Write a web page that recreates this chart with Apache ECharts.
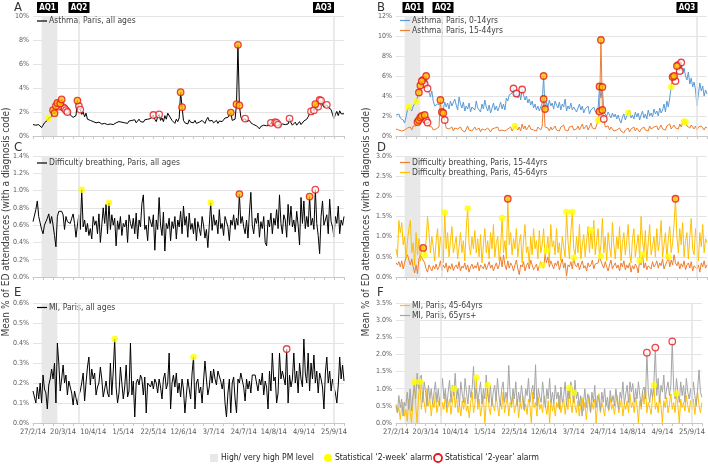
<!DOCTYPE html>
<html>
<head>
<meta charset="utf-8">
<script src="https://cdn.jsdelivr.net/npm/echarts@6/dist/echarts.min.js"></script>
<style>
  html, body { margin: 0; background: #fff; }
  #chart { width: 708px; height: 464px; }
</style>
</head>
<body>
<div id="chart"></div>
<script>
const FONT = "'Liberation Sans Narrow', 'DejaVu Sans Condensed', 'Liberation Sans', sans-serif";

// one category per day, from 27/2/14
const dayCount = 218;
const dates = [];
for (let i = 0; i < dayCount; i++) {
  const d = new Date(2014, 1, 27 + i);
  dates.push(`${d.getDate()}/${d.getMonth() + 1}/14`);
}
const xLabelDates = ['27/2/14', '20/3/14', '10/4/14', '1/5/14', '22/5/14', '12/6/14', '3/7/14', '24/7/14', '14/8/14', '4/9/14', '25/9/14'];
const pmEpisode = [6, 17];   // AQ1 shaded days
const aqLines = [32, 210];   // AQ2, AQ3

// A - asthma, all ages
const asthmaAll = [
  0.95,1.0,0.9,1.05,0.95,0.85,0.7,0.9,1.1,1.25,1.3,1.5,1.35,1.6,
  2.15,1.9,2.5,2.75,2.45,2.7,3.05,2.4,2.3,2.15,2.0,2.25,1.75,1.8,
  1.55,1.6,1.7,2.95,2.5,2.2,1.8,2.0,1.6,1.9,1.4,1.5,1.3,1.35,
  1.2,1.3,1.1,1.25,1.15,1.3,1.0,1.15,1.05,1.2,0.95,1.1,1.0,1.15,
  0.95,1.05,1.1,1.0,1.2,1.05,1.15,1.3,1.1,1.2,1.05,1.25,1.15,1.3,
  1.2,1.35,1.1,1.25,1.4,1.2,1.3,1.15,1.35,1.25,1.4,1.3,1.45,1.5,
  1.75,1.4,1.2,1.6,1.8,1.3,1.5,1.2,1.7,1.4,1.9,2.0,1.5,1.3,
  1.2,1.05,1.4,1.2,1.5,3.65,2.4,1.3,1.1,1.25,1.0,1.35,1.15,1.2,
  1.1,1.3,1.05,1.2,1.15,1.1,1.3,1.2,1.05,1.35,1.55,1.25,1.15,1.3,
  1.1,1.2,1.3,1.05,1.25,1.4,1.2,1.3,1.5,1.35,1.55,1.5,1.95,1.3,
  1.2,1.4,2.65,7.6,2.55,1.6,1.3,1.25,1.45,1.2,1.05,1.3,1.1,1.2,
  0.95,1.1,0.85,0.75,0.6,0.8,0.65,0.9,0.75,0.85,0.95,0.9,1.1,0.95,
  1.05,1.15,1.1,0.95,0.8,0.9,1.0,0.85,0.95,1.1,1.0,1.45,1.1,0.9,
  1.0,1.15,0.9,1.05,1.2,0.95,1.1,1.25,1.15,1.4,1.6,1.85,2.05,1.9,
  2.15,2.65,2.3,2.45,3.0,2.95,2.6,2.4,2.25,2.6,2.4,2.5,2.2,1.8,
  1.45,1.8,2.05,1.7,2.1,1.85,2.0,1.85
];
const asthmaAllWeek = [11];
const asthmaAllBoth = [14, 15, 16, 17, 19, 20, 31, 103, 104, 138, 142, 143, 144, 197];
const asthmaAllYear = [18, 21, 22, 23, 24, 32, 33, 84, 88, 148, 166, 169, 170, 171, 179, 194, 196, 199, 200, 201, 205];

// B - asthma, 0-14yrs and 15-44yrs
const asthmaChild = [
  2.1,1.9,2.2,1.8,2.0,1.6,1.3,1.9,2.6,2.9,2.7,2.5,3.0,3.1,
  3.45,3.9,4.35,5.05,5.5,5.6,5.2,6.0,4.75,4.4,3.9,4.5,3.5,3.0,
  2.8,3.2,3.0,3.1,3.2,2.6,3.4,2.9,3.3,2.7,3.5,3.0,2.8,3.7,
  3.1,2.6,3.9,3.2,2.8,3.4,2.5,3.0,2.7,3.3,2.4,2.9,3.1,2.6,
  3.5,2.8,3.0,2.4,3.2,2.7,3.6,2.9,2.5,3.1,2.3,2.8,3.3,2.6,
  3.0,2.5,2.9,3.4,2.7,3.2,2.6,3.8,3.5,4.1,3.9,4.3,4.75,3.9,
  4.25,3.8,4.4,3.6,4.65,4.1,3.6,4.0,3.3,3.7,3.1,3.5,2.8,3.2,
  2.6,3.0,2.5,2.9,3.3,6.0,2.7,3.4,2.9,3.6,3.0,3.3,2.7,3.5,
  3.1,2.8,3.4,2.6,3.2,2.9,3.7,2.5,3.0,2.7,3.3,2.6,2.9,3.1,
  2.4,2.8,3.2,2.6,3.0,2.3,2.7,2.5,3.0,2.2,2.6,2.4,2.9,2.5,
  2.2,2.7,4.95,3.8,4.9,2.4,2.5,2.0,2.4,2.1,1.8,2.3,1.9,2.2,
  1.7,2.1,1.6,1.3,1.9,2.2,1.6,2.0,2.3,2.6,1.8,2.1,1.7,2.4,
  1.9,2.3,1.6,2.1,2.5,1.8,2.2,1.7,2.6,2.0,2.3,1.9,2.7,2.2,
  2.5,2.0,2.8,2.3,2.6,3.2,2.4,3.5,2.9,3.8,4.9,5.9,6.0,5.5,
  7.0,7.1,6.5,7.35,6.2,6.8,6.0,5.6,6.4,5.2,5.8,4.9,5.4,4.6,
  3.0,4.2,5.3,4.5,5.0,4.0,4.6,4.2
];
const asthmaChildWeek = [9, 14, 162, 192];
const asthmaChildBoth = [16, 17, 18, 21, 103, 104, 142, 144, 193, 194, 196];
const asthmaChildYear = [19, 20, 22, 82, 84, 88, 195, 197, 198, 199];

const asthmaAdult = [
  0.7,0.9,0.6,0.8,0.5,0.7,0.6,0.5,0.8,0.7,0.9,0.6,1.0,0.8,
  1.0,1.4,1.6,1.85,2.0,1.7,2.1,1.6,1.35,1.0,0.8,0.9,0.6,0.8,
  0.7,0.5,0.9,3.6,2.4,2.3,1.6,0.8,1.0,0.7,0.6,0.9,0.5,0.8,
  0.6,0.7,0.5,0.9,0.6,0.8,0.4,0.7,1.0,0.6,0.8,0.5,0.7,0.9,
  0.6,0.5,0.8,0.4,0.7,0.9,0.6,0.5,0.8,0.6,0.4,0.7,0.5,0.8,
  0.6,0.9,0.5,0.7,0.6,0.8,0.5,0.4,0.7,0.6,0.9,0.5,0.7,1.0,
  0.8,0.6,0.9,0.5,1.2,0.7,1.0,0.6,0.8,1.1,0.7,0.9,0.6,0.8,
  0.5,0.9,0.7,0.6,1.0,3.7,0.9,0.7,0.8,0.5,0.9,0.6,0.7,1.0,
  0.6,0.8,0.5,0.9,0.7,1.1,0.6,0.8,0.5,0.9,0.7,1.0,0.6,0.8,
  0.7,1.0,0.6,0.9,1.2,0.7,0.8,1.1,0.6,0.9,1.3,0.8,1.0,0.7,
  1.1,1.6,2.45,9.6,2.6,1.7,0.9,0.7,1.0,0.6,0.9,0.8,0.5,0.7,
  0.6,0.4,0.8,0.5,0.7,0.3,0.6,0.5,0.8,0.4,0.7,0.6,0.9,0.5,
  0.8,0.6,0.4,0.7,0.5,0.9,0.6,0.8,0.5,1.0,0.7,0.6,0.9,0.7,
  1.0,0.6,0.8,1.1,0.7,0.9,0.6,1.0,0.8,1.2,0.7,0.9,1.1,0.8,
  1.0,0.7,1.2,0.9,1.3,1.45,1.4,1.0,1.2,0.8,1.1,0.9,0.7,1.0,
  0.6,0.9,0.7,1.0,0.8,0.6,0.9,0.8
];
const asthmaAdultWeek = [83, 141, 201, 202];
const asthmaAdultBoth = [15, 16, 17, 18, 20, 31, 32, 33, 103, 142, 143, 144];
const asthmaAdultYear = [21, 22, 34, 145];

// C - difficulty breathing, all ages
const breathAll = [
  0.64,0.66,0.78,0.88,0.7,0.72,0.55,0.5,0.6,0.58,0.68,0.73,0.62,0.7,
  0.6,0.48,0.35,0.7,0.76,0.74,0.76,0.72,0.55,0.7,0.64,0.65,0.62,0.68,
  0.73,0.62,0.46,0.6,0.72,0.55,1.01,0.58,0.66,0.52,0.62,0.48,0.56,0.44,
  0.7,0.6,0.65,0.5,0.73,0.4,0.6,0.8,0.62,0.84,0.5,0.86,0.55,0.72,
  0.6,0.68,0.36,0.65,0.55,0.7,0.48,0.62,0.58,0.66,0.4,0.72,0.62,0.56,
  0.68,0.5,0.74,0.44,0.66,0.58,0.85,0.95,0.55,0.6,0.42,0.7,0.64,0.58,
  0.72,0.31,0.66,0.55,0.92,0.6,0.48,0.75,0.3,0.62,0.56,0.68,0.42,0.64,
  0.56,0.7,0.44,0.66,0.58,0.76,0.5,0.82,0.6,0.7,0.46,0.74,0.55,0.62,
  0.5,0.68,0.42,0.64,0.56,0.48,0.7,0.6,0.45,0.55,0.34,0.6,0.86,0.54,
  0.72,0.6,0.66,0.5,0.78,0.56,0.62,0.48,0.7,0.64,0.58,0.42,0.66,0.6,
  0.72,0.55,0.68,0.6,0.96,0.62,0.7,0.58,0.5,0.66,0.45,0.74,0.98,0.6,
  0.5,0.68,0.62,0.74,0.46,0.64,0.56,0.7,0.4,0.36,0.66,0.58,0.74,0.5,
  0.68,0.6,0.78,0.56,0.95,0.62,0.5,0.72,0.66,0.46,0.84,0.6,0.82,0.58,
  0.66,0.52,0.76,0.6,0.37,0.92,0.62,0.88,0.56,0.7,0.58,0.93,0.6,0.68,
  0.55,1.01,0.62,0.48,0.27,0.7,0.88,0.6,0.66,0.72,0.5,0.9,0.64,0.58,
  0.46,0.7,0.62,0.82,0.5,0.66,0.6,0.7
];
const breathAllWeek = [34, 53, 124];
const breathAllBoth = [144, 193];
const breathAllYear = [197];

// D - difficulty breathing, 15-44yrs and 45-64yrs
const breathAdult = [
  0.35,0.3,0.38,0.25,0.4,0.2,0.35,0.5,0.55,0.42,0.3,0.45,0.25,0.1,
  0.3,0.08,0.45,0.55,0.48,0.5,0.35,0.2,0.12,0.3,0.22,0.15,0.28,0.2,
  0.32,0.18,0.25,0.4,0.15,0.3,0.22,0.35,0.12,0.28,0.2,0.33,0.16,0.25,
  0.3,0.2,0.38,0.15,0.27,0.22,0.35,0.18,0.3,0.12,0.25,0.32,0.2,0.28,
  0.22,0.36,0.15,0.3,0.25,0.2,0.33,0.18,0.28,0.38,0.22,0.3,0.15,0.26,
  0.35,0.2,0.3,0.5,0.25,0.55,0.3,0.18,0.4,0.22,0.35,0.28,0.15,0.3,
  0.42,0.2,0.06,0.3,0.25,0.38,0.15,0.28,0.35,0.2,0.42,0.3,0.18,0.25,
  0.32,0.15,0.28,0.38,0.29,0.22,0.55,0.35,0.5,0.25,0.4,0.3,0.2,0.35,
  0.28,0.4,0.18,0.32,0.45,0.22,0.35,0.02,0.3,0.25,0.38,0.2,0.48,0.3,
  0.25,0.35,0.18,0.3,0.4,0.22,0.28,0.15,0.35,0.25,0.3,0.42,0.2,0.32,
  0.28,0.35,0.5,0.52,0.3,0.22,0.38,0.25,0.15,0.3,0.42,0.2,0.28,0.35,
  0.22,0.3,0.15,0.35,0.25,0.4,0.18,0.3,0.22,0.35,0.12,0.28,0.2,0.32,
  0.25,0.1,0.41,0.3,0.56,0.22,0.35,0.18,0.28,0.32,0.2,0.38,0.25,0.3,
  0.4,0.22,0.35,0.28,0.45,0.2,0.3,0.38,0.5,0.25,0.42,0.3,0.55,0.35,
  0.28,0.38,0.2,0.33,0.25,0.4,0.18,0.3,0.35,0.22,0.38,0.15,0.28,0.32,
  0.2,0.3,0.12,0.35,0.25,0.4,0.22,0.3
];
const breathAdultWeek = [102, 124, 143, 170, 172, 190];

const breathMid = [
  0.7,0.5,1.4,1.1,1.35,0.8,1.0,0.45,0.9,1.2,1.4,0.6,0.85,0.3,
  1.1,0.55,0.95,0.4,0.8,0.72,0.54,0.9,1.5,1.1,0.6,1.0,0.75,0.4,
  0.9,1.2,0.5,1.0,0.8,0.35,1.6,0.7,1.1,0.5,0.9,1.25,0.6,0.8,
  1.0,0.45,0.75,1.1,0.6,0.9,0.4,1.2,1.7,0.8,0.55,1.0,0.7,1.15,
  0.6,0.95,0.5,1.05,0.35,0.8,1.2,0.6,0.9,0.45,1.1,0.7,1.3,0.5,
  0.85,1.0,0.4,0.75,1.46,0.6,0.9,0.45,1.94,0.8,1.1,0.55,0.95,0.7,
  1.2,0.5,0.85,1.05,0.35,0.9,1.3,0.6,0.75,0.3,1.0,0.55,1.2,0.7,
  0.9,0.45,1.15,0.6,0.8,1.2,0.5,0.66,1.0,0.35,1.3,0.75,0.9,0.55,
  1.2,0.6,0.85,0.4,1.0,0.75,0.5,1.61,0.9,0.45,1.1,1.61,0.7,0.55,
  1.0,0.6,1.3,0.45,0.8,1.05,0.5,0.9,1.25,0.6,1.16,0.7,1.4,0.55,
  0.9,1.2,0.5,0.8,1.45,0.6,1.0,0.4,1.1,0.75,0.5,1.35,0.8,0.45,
  1.0,0.7,1.25,0.4,0.85,1.1,0.55,0.9,1.3,0.6,0.35,0.95,1.2,0.5,
  0.8,1.05,0.45,1.5,0.9,0.6,1.15,0.4,0.85,1.3,0.55,0.75,1.0,0.5,
  1.2,0.65,0.9,1.4,0.5,0.8,1.1,0.45,0.95,1.25,0.6,0.85,1.3,1.94,
  1.0,0.6,1.2,0.8,1.35,0.5,0.9,1.1,0.45,1.0,1.45,0.7,0.55,1.2,
  0.9,0.4,1.1,0.75,1.3,0.6,0.95,0.85
];
const breathMidWeek = [20, 34, 50, 74, 105, 119, 123, 136];
const breathMidBoth = [19, 78, 195];

// E - MI, all ages
const miAll = [
  0.16,0.15,0.1,0.18,0.12,0.2,0.1,0.24,0.17,0.15,0.07,0.19,0.22,0.27,
  0.22,0.3,0.1,0.4,0.3,0.16,0.22,0.29,0.2,0.24,0.14,0.21,0.18,0.15,
  0.09,0.16,0.15,0.09,0.14,0.16,0.2,0.25,0.11,0.2,0.28,0.33,0.19,0.27,
  0.22,0.25,0.14,0.18,0.2,0.28,0.22,0.13,0.17,0.21,0.15,0.13,0.3,0.14,
  0.26,0.42,0.18,0.1,0.15,0.28,0.27,0.12,0.18,0.29,0.13,0.16,0.4,0.14,
  0.21,0.03,0.2,0.22,0.19,0.24,0.22,0.14,0.23,0.05,0.2,0.19,0.18,0.21,
  0.17,0.22,0.2,0.15,0.22,0.18,0.12,0.22,0.25,0.17,0.2,0.35,0.07,0.2,
  0.24,0.18,0.25,0.15,0.2,0.13,0.22,0.17,0.05,0.14,0.22,0.23,0.12,0.25,
  0.33,0.07,0.2,0.22,0.15,0.18,0.1,0.21,0.31,0.22,0.14,0.18,0.26,0.2,
  0.27,0.22,0.19,0.26,0.27,0.21,0.17,0.22,0.1,0.03,0.15,0.22,0.05,0.2,
  0.23,0.12,0.05,0.22,0.2,0.25,0.24,0.18,0.11,0.22,0.17,0.21,0.15,0.24,
  0.25,0.24,0.2,0.16,0.22,0.19,0.25,0.14,0.21,0.18,0.07,0.26,0.16,0.35,
  0.21,0.23,0.1,0.15,0.35,0.22,0.26,0.25,0.19,0.37,0.1,0.24,0.18,0.22,
  0.35,0.2,0.26,0.15,0.3,0.22,0.18,0.42,0.25,0.2,0.35,0.16,0.3,0.22,
  0.34,0.2,0.26,0.15,0.25,0.22,0.18,0.07,0.25,0.33,0.2,0.26,0.16,0.22,
  0.18,0.15,0.1,0.19,0.33,0.22,0.29,0.21
];
const miAllWeek = [57, 112];
const miAllYear = [177];

// F - MI, 45-64yrs and 65yrs+
const miMid = [
  0.55,0.3,0.45,0.1,0.5,0.6,0.2,0.4,0.05,0.7,0.35,0.0,0.6,1.2,
  0.5,0.0,0.8,1.2,0.4,0.9,0.6,0.3,1.0,0.5,0.7,0.2,0.6,0.45,
  0.9,0.3,0.55,0.75,0.2,0.6,0.4,0.85,0.3,0.5,0.7,0.25,0.6,1.0,
  0.45,0.8,0.3,0.55,0.2,0.65,0.4,0.75,0.35,0.5,0.15,0.6,0.9,0.3,
  0.55,1.33,0.4,0.7,0.2,0.5,0.8,0.0,0.6,1.1,0.45,0.25,0.7,0.5,
  0.35,0.8,0.5,0.2,0.65,0.4,0.9,0.3,0.55,0.75,0.2,0.6,0.45,0.85,
  0.3,0.5,0.7,0.15,0.6,0.4,0.8,0.35,0.55,0.25,0.7,0.5,0.0,0.9,
  0.45,0.6,0.2,0.75,0.4,0.55,0.3,0.8,0.5,0.25,0.65,0.0,0.7,0.35,
  0.55,0.2,0.6,0.45,0.8,0.3,0.5,0.7,0.25,0.6,0.4,1.03,0.55,0.3,
  0.88,0.5,0.3,0.65,0.2,0.55,0.75,0.35,0.6,0.1,0.5,0.8,0.3,0.6,
  0.4,0.7,0.0,0.55,0.85,0.3,0.6,0.45,0.2,0.65,0.5,0.35,0.75,0.4,
  0.55,0.25,0.6,0.8,0.3,0.5,0.7,0.2,0.55,0.4,0.65,0.3,0.85,0.45,
  0.6,0.3,0.75,0.5,0.0,0.65,0.4,0.9,0.55,1.05,0.3,0.6,0.45,0.25,
  0.7,1.1,0.4,0.6,0.3,0.8,0.5,0.0,0.65,0.45,0.75,0.3,0.55,0.85,
  0.4,0.6,0.3,0.86,0.5,0.0,0.7,0.45,0.6,0.35,0.8,0.5,0.3,0.65,
  0.4,0.7,0.25,0.6,0.9,0.5,0.3,0.6
];
const miMidWeek = [13, 17, 41, 57, 65, 123, 126, 183, 199];

const miOld = [
  0.5,0.3,0.8,0.45,0.7,0.2,0.6,0.5,0.9,0.4,1.0,0.35,0.8,1.1,
  0.7,1.45,1.0,1.3,1.4,0.6,1.2,0.9,0.5,1.1,0.7,1.0,0.55,0.9,
  1.2,0.6,1.0,0.5,0.85,1.3,0.7,1.0,0.45,0.9,1.25,0.6,1.1,0.8,
  1.45,0.7,1.0,0.5,1.2,0.85,0.6,1.3,0.9,0.55,1.1,0.75,1.0,1.65,
  0.7,1.0,0.6,0.9,1.2,0.55,1.0,0.7,1.4,0.85,0.6,1.1,0.5,0.9,
  1.1,0.65,1.3,0.8,0.5,1.0,1.2,0.6,0.9,0.7,1.68,0.8,0.55,1.0,
  0.7,1.2,0.5,0.9,0.6,1.1,0.75,0.4,1.0,0.8,1.3,0.6,0.9,1.1,
  0.7,1.7,0.5,1.0,0.75,0.6,1.2,0.8,0.45,1.0,0.7,1.3,0.6,0.9,
  0.55,1.1,0.7,0.9,0.4,1.05,0.6,0.8,1.2,0.5,0.95,0.7,1.2,1.0,
  0.6,1.25,0.7,0.9,0.5,0.8,0.2,0.6,1.0,0.45,0.85,0.7,0.3,0.9,
  0.6,1.1,0.45,0.8,0.7,0.35,0.9,0.6,1.0,0.5,0.75,0.4,0.95,0.6,
  0.8,0.5,1.0,0.65,0.4,0.9,0.7,1.2,0.55,0.85,1.1,0.6,1.2,0.9,
  1.15,0.6,1.0,0.7,1.2,0.8,0.5,0.95,1.05,0.7,2.05,0.9,0.6,1.0,
  0.75,1.2,2.2,0.8,1.3,0.6,1.1,0.9,1.4,0.7,1.0,1.2,0.8,1.1,
  2.38,1.0,0.7,1.3,0.9,0.6,1.2,0.8,1.1,0.6,1.3,0.9,0.7,1.0,
  0.6,1.2,0.8,0.5,1.0,1.55,0.9,0.75
];
const miOldYear = [178, 184, 196];

const PANELS = [
  {
    rect: { left: 33, top: 16, width: 311, height: 120 }, max: 10, step: 2, digits: 0,
    letter: 'A', letterPos: [14, 1], legendPos: [37, 16.5], xLabels: false,
    aq: [['AQ1', 47.5], ['AQ2', 79], ['AQ3', 323.5]],
    lines: [
      { name: 'Asthma, Paris, all ages', data: asthmaAll, color: '#000000', week: asthmaAllWeek, year: asthmaAllYear, both: asthmaAllBoth },
    ],
  },
  {
    rect: { left: 396, top: 16, width: 311, height: 120 }, max: 12, step: 2, digits: 0,
    letter: 'B', letterPos: [377, 1], legendPos: [400, 16], xLabels: false,
    aq: [['AQ1', 413], ['AQ2', 443], ['AQ3', 687]],
    lines: [
      { name: 'Asthma, Paris, 0-14yrs', data: asthmaChild, color: '#5b9bd5', week: asthmaChildWeek, year: asthmaChildYear, both: asthmaChildBoth },
      { name: 'Asthma, Paris, 15-44yrs', data: asthmaAdult, color: '#ed7d31', week: asthmaAdultWeek, year: asthmaAdultYear, both: asthmaAdultBoth },
    ],
  },
  {
    rect: { left: 33, top: 156, width: 311, height: 121 }, max: 1.4, step: 0.2, digits: 1,
    letter: 'C', letterPos: [14, 141], legendPos: [37, 158.5], xLabels: false,
    lines: [
      { name: 'Difficulty breathing, Paris, all ages', data: breathAll, color: '#000000', week: breathAllWeek, year: breathAllYear, both: breathAllBoth },
    ],
  },
  {
    rect: { left: 396, top: 156, width: 311, height: 121 }, max: 3, step: 0.5, digits: 1,
    letter: 'D', letterPos: [377, 141], legendPos: [400, 158], xLabels: false,
    lines: [
      { name: 'Difficulty breathing, Paris, 15-44yrs', data: breathAdult, color: '#ed7d31', week: breathAdultWeek },
      { name: 'Difficulty breathing, Paris, 45-64yrs', data: breathMid, color: '#ffc000', week: breathMidWeek, both: breathMidBoth },
    ],
  },
  {
    rect: { left: 33, top: 303, width: 311, height: 120 }, max: 0.6, step: 0.1, digits: 1,
    letter: 'E', letterPos: [14, 286], legendPos: [37, 303], xLabels: true,
    lines: [
      { name: 'MI, Paris, all ages', data: miAll, color: '#000000', week: miAllWeek, year: miAllYear },
    ],
  },
  {
    rect: { left: 396, top: 303, width: 311, height: 120 }, max: 3.5, step: 0.5, digits: 1,
    letter: 'F', letterPos: [377, 286], legendPos: [400, 301], xLabels: true,
    lines: [
      { name: 'MI, Paris, 45-64yrs', data: miMid, color: '#ffc000', week: miMidWeek },
      { name: 'MI, Paris, 65yrs+', data: miOld, color: '#a5a5a5', year: miOldYear },
    ],
  },
];

const ALARM_STYLES = {
  week: { color: '#ffff00', borderWidth: 0 },
  year: { color: 'rgba(255,255,255,0.85)', borderColor: '#e3191c', borderWidth: 1.3 },
  both: { color: '#ffc000', borderColor: '#e3191c', borderWidth: 1.3 },
};

const axisGrey = '#c8c8c8';
const labelGrey = '#595959';

function alarmSeries(values, idx, kind, gi) {
  return {
    type: 'scatter',
    xAxisIndex: gi,
    yAxisIndex: gi,
    data: idx.map((i) => [dates[i], values[i]]),
    symbol: 'circle',
    symbolSize: 6.5,
    itemStyle: ALARM_STYLES[kind],
    silent: true,
    z: 5,
  };
}

const series = [];
PANELS.forEach((p, gi) => {
  p.lines.forEach((line, li) => {
    const s = {
      name: line.name,
      type: 'line',
      xAxisIndex: gi,
      yAxisIndex: gi,
      data: line.data,
      symbol: 'none',
      lineStyle: { width: 1, color: line.color },
      itemStyle: { color: line.color },
      silent: true,
      z: 3,
    };
    if (li === 0) {
      s.markArea = {
        silent: true,
        itemStyle: { color: '#e8e8e8' },
        data: [[{ xAxis: dates[pmEpisode[0]] }, { xAxis: dates[pmEpisode[1]] }]],
      };
      s.markLine = {
        silent: true,
        symbol: 'none',
        label: { show: false },
        lineStyle: { color: '#e3e3e3', width: 1.5, type: 'solid' },
        data: aqLines.map((i) => ({ xAxis: dates[i] })),
      };
    }
    series.push(s);
  });
  p.lines.forEach((line) => {
    ['week', 'year', 'both'].forEach((kind) => {
      if (line[kind]) series.push(alarmSeries(line.data, line[kind], kind, gi));
    });
  });
});

const graphic = [];
PANELS.forEach((p) => {
  graphic.push({
    type: 'text', x: p.letterPos[0], y: p.letterPos[1],
    style: { text: p.letter, fontSize: 13, fontFamily: FONT, fill: '#333' },
  });
  (p.aq || []).forEach(([txt, cx]) => {
    graphic.push({ type: 'rect', shape: { x: cx - 10.5, y: 2, width: 21, height: 11 }, style: { fill: '#000' } });
    graphic.push({
      type: 'text', x: cx, y: 7.5,
      style: { text: txt, fill: '#fff', fontSize: 8, fontWeight: 'bold', fontFamily: FONT, align: 'center', verticalAlign: 'middle' },
    });
  });
});
const yTitle = 'Mean % of ED attendances (with a diagnosis code)';
[6, 366].forEach((x) => {
  graphic.push({
    type: 'text', x, y: 222, rotation: Math.PI / 2,
    style: { text: yTitle, fontSize: 10, fontFamily: FONT, fill: '#404040', align: 'center', verticalAlign: 'middle' },
  });
});
// bottom key
const keyY = 458;
const keyText = (x, text) => ({
  type: 'text', x, y: keyY,
  style: { text, fontSize: 8.5, fontFamily: FONT, fill: '#222', verticalAlign: 'middle' },
});
graphic.push(
  { type: 'rect', shape: { x: 210, y: keyY - 4, width: 8, height: 8 }, style: { fill: '#e8e8e8' } },
  keyText(221, 'High/ very high PM level'),
  { type: 'circle', shape: { cx: 328, cy: keyY, r: 4 }, style: { fill: '#ffff00' } },
  keyText(335, 'Statistical \u20182-week\u2019 alarm'),
  { type: 'circle', shape: { cx: 438, cy: keyY, r: 4 }, style: { fill: '#fff', stroke: '#e3191c', lineWidth: 1.8 } },
  keyText(445, 'Statistical \u20182-year\u2019 alarm'),
);

const option = {
  animation: false,
  backgroundColor: '#ffffff',
  textStyle: { fontFamily: FONT },
  grid: PANELS.map((p) => ({ ...p.rect, containLabel: false })),
  xAxis: PANELS.map((p, gi) => ({
    gridIndex: gi,
    type: 'category',
    data: dates,
    boundaryGap: false,
    axisLine: { lineStyle: { color: axisGrey } },
    axisTick: { show: true, interval: (i) => i % 7 === 0, length: 3, lineStyle: { color: axisGrey } },
    axisLabel: {
      show: p.xLabels,
      interval: (i, v) => xLabelDates.includes(v),
      fontSize: 7.5,
      color: labelGrey,
      margin: 5,
    },
    splitLine: { show: false },
  })),
  yAxis: PANELS.map((p, gi) => ({
    gridIndex: gi,
    type: 'value',
    min: 0,
    max: p.max,
    interval: p.step,
    axisLine: { show: false },
    axisTick: { show: false },
    axisLabel: {
      fontSize: 7,
      color: labelGrey,
      margin: 4,
      formatter: (v) => `${v.toFixed(p.digits)}%`,
    },
    splitLine: { lineStyle: { color: '#e4e4e4', width: 1 } },
  })),
  legend: PANELS.map((p) => ({
    left: p.legendPos[0],
    top: p.legendPos[1],
    orient: 'vertical',
    data: p.lines.map((l) => l.name),
    icon: 'rect',
    itemWidth: 10,
    itemHeight: 1.2,
    itemGap: 1,
    padding: 0,
    selectedMode: false,
    textStyle: { fontSize: 8.5, color: '#404040', fontFamily: FONT, padding: [0, 0, 0, -3] },
  })),
  series,
  graphic,
};

const chart = echarts.init(document.getElementById('chart'), null, { renderer: 'canvas' });
chart.setOption(option);
</script>
</body>
</html>
